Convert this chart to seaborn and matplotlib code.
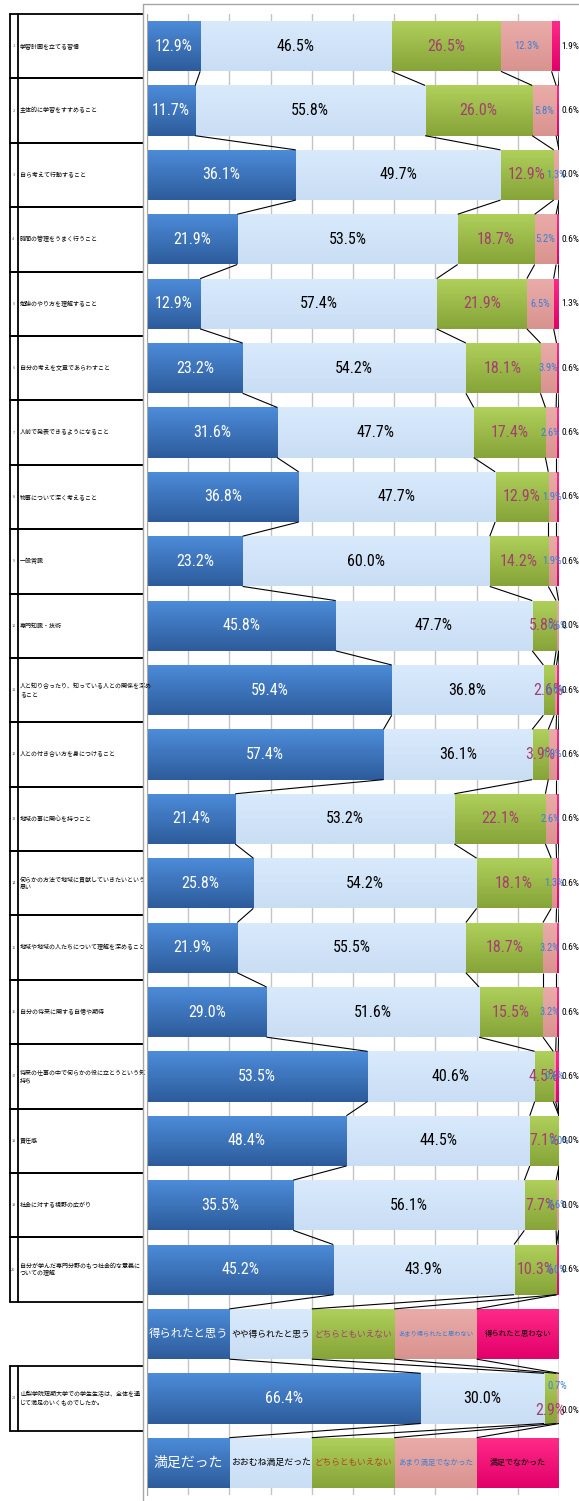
import numpy as np
import pandas as pd
import matplotlib
matplotlib.use("Agg")
import matplotlib.pyplot as plt
import seaborn as sns
from matplotlib import font_manager, transforms
from matplotlib.font_manager import FontProperties
from matplotlib.colors import to_rgb
from matplotlib.lines import Line2D

# ---------------- data ----------------
items = [
    "学習計画を立てる習慣",
    "主体的に学習をすすめること",
    "自ら考えて行動すること",
    "時間の管理をうまく行うこと",
    "勉強のやり方を理解すること",
    "自分の考えを文章であらわすこと",
    "人前で発表できるようになること",
    "物事について深く考えること",
    "一般常識",
    "専門知識・技術",
    "人と知り合ったり、知っている人との関係を深め\nること",
    "人との付き合い方を身につけること",
    "地域の事に関心を持つこと",
    "何らかの方法で地域に貢献していきたいという\n思い",
    "地域や地域の人たちについて理解を深めること",
    "自分の将来に関する自信や期待",
    "将来の仕事の中で何らかの役に立とうという気\n持ち",
    "責任感",
    "社会に対する視野の広がり",
    "自分が学んだ専門分野のもつ社会的な意義に\nついての理解",
    "山梨学院短期大学での学生生活は、全体を通\nじて満足のいくものでしたか。",
]
item_numbers = [str(i) for i in range(1, 22)]

legend1_names = ["得られたと思う", "やや得られたと思う", "どちらともいえない",
                 "あまり得られたと思わない", "得られたと思わない"]
legend2_names = ["満足だった", "おおむね満足だった", "どちらともいえない",
                 "あまり満足でなかった", "満足でなかった"]
legend_share = [20, 20, 20, 20, 20]

cat1 = [12.9, 11.7, 36.1, 21.9, 12.9, 23.2, 31.6, 36.8, 23.2, 45.8,
        59.4, 57.4, 21.4, 25.8, 21.9, 29.0, 53.5, 48.4, 35.5, 45.2, 66.4]
cat2 = [46.5, 55.8, 49.7, 53.5, 57.4, 54.2, 47.7, 47.7, 60.0, 47.7,
        36.8, 36.1, 53.2, 54.2, 55.5, 51.6, 40.6, 44.5, 56.1, 43.9, 30.0]
cat3 = [26.5, 26.0, 12.9, 18.7, 21.9, 18.1, 17.4, 12.9, 14.2, 5.8,
        2.6, 3.9, 22.1, 18.1, 18.7, 15.5, 4.5, 7.1, 7.7, 10.3, 2.9]
cat4 = [12.3, 5.8, 1.3, 5.2, 6.5, 3.9, 2.6, 1.9, 1.9, 0.6,
        0.6, 1.9, 2.6, 1.3, 3.2, 3.2, 0.6, 0.0, 0.6, 0.0, 0.7]
cat5 = [1.9, 0.6, 0.0, 0.6, 1.3, 0.6, 0.6, 0.6, 0.6, 0.0,
        0.6, 0.6, 0.6, 0.6, 0.6, 0.6, 0.6, 0.0, 0.0, 0.6, 0.0]

# ---------------- fonts ----------------
sns.set_style("white")
plt.rcParams["font.family"] = ["Noto Sans CJK JP", "DejaVu Sans"]


def pick_number_font():
    ttf = font_manager.fontManager.ttflist
    prefs = ["Liberation Sans Narrow", "Roboto Condensed", "Open Sans Condensed",
             "Noto Sans Condensed", "DejaVu Sans Condensed"]
    for name in prefs:
        for f in ttf:
            if f.name == name and f.style == "normal" and f.weight in (400, "normal", "regular"):
                return FontProperties(fname=f.fname), 1.0
    for f in ttf:
        if f.name in ("Noto Sans", "Roboto", "Open Sans", "DejaVu Sans", "Inter") and \
                f.stretch in ("condensed", "semi-condensed", "extra-condensed") and \
                f.style == "normal" and f.weight in (400, "normal", "regular"):
            return FontProperties(fname=f.fname), 1.0
    return FontProperties(family="Liberation Sans"), 0.9


NUMPROP, NSCALE = pick_number_font()

# ---------------- build rows ----------------
data_vals = np.array([cat1, cat2, cat3, cat4, cat5]).T  # (21,5)
rows_vals = list(data_vals[:20]) + [np.array(legend_share, float)] + \
            [data_vals[20]] + [np.array(legend_share, float)]
vals = np.array(rows_vals)  # (23,5)
cum = np.cumsum(vals, axis=1)
n_rows = vals.shape[0]
row_ids = [f"r{i}" for i in range(n_rows)]
row_kind = ["data"] * 20 + ["leg1", "data", "leg2"]

colors = ["#3a74c0", "#d3e5fa", "#9dbd45", "#e6a3a0", "#ff0a74"]
grad_top = ["#4d8cda", "#d9eafc", "#b0d05c", "#eaaca9", "#ff2a88"]
grad_bot = ["#2d5c9b", "#c9ddf4", "#86a438", "#d9938f", "#e2006a"]
label_colors = ["white", "black", "#a3406e", "#3b7fd6", "black"]

W, H = 579, 1501
fig = plt.figure(figsize=(W / 100, H / 100), dpi=100)
ax = fig.add_axes([147 / W, 6 / H, 412 / W, 1481 / H])

df = pd.DataFrame({"row": row_ids})
BAR_H = 0.78


def grad_fill(patch, top, bot, z):
    x, y = patch.get_x(), patch.get_y()
    w, h = patch.get_width(), patch.get_height()
    if w <= 0:
        return
    t = np.linspace(0, 1, 40)[:, None]
    cols = (1 - t) * np.array(to_rgb(top)) + t * np.array(to_rgb(bot))
    im = ax.imshow(cols[:, None, :], extent=(x, x + w, y + h, y), aspect="auto",
                   zorder=z, interpolation="bilinear")
    im.set_clip_path(patch)


for j, k in enumerate(range(4, -1, -1)):
    df["cum"] = cum[:, k]
    before = len(ax.patches)
    sns.barplot(data=df, x="cum", y="row", order=row_ids, orient="h",
                color=colors[k], saturation=1, width=BAR_H, errorbar=None,
                linewidth=0, ax=ax)
    z = 2 + j * 0.1
    for p in ax.patches[before:]:
        p.set_zorder(z)
        grad_fill(p, grad_top[k], grad_bot[k], z + 0.05)

# series lines between consecutive bars
for i in range(n_rows - 1):
    for b in range(5):
        ax.plot([cum[i, b], cum[i + 1, b]],
                [i + BAR_H / 2, i + 1 - BAR_H / 2],
                color="black", lw=0.8, zorder=3, solid_capstyle="butt")

# data labels
big, mid, small = 11.5 * NSCALE, 7.6 * NSCALE, 6.8 * NSCALE
special_dy = {(21, 2): 0.19, (21, 3): -0.19, (21, 4): 0.19}
leg1_sizes = [8.2, 6.3, 6.2, 4.5, 5.3]
leg2_sizes = [10.0, 6.4, 6.2, 5.4, 5.8]
leg1_colors = ["white", "black", "#a3406e", "#3b7fd6", "black"]
leg2_colors = ["white", "black", "#b0461a", "#3b7fd6", "black"]
for i in range(n_rows):
    for k in range(5):
        v = vals[i, k]
        xc = cum[i, k] - v / 2
        if row_kind[i] == "leg1":
            ax.text(xc, i, legend1_names[k], ha="center", va="center",
                    color=leg1_colors[k], fontsize=leg1_sizes[k], zorder=10)
            continue
        if row_kind[i] == "leg2":
            ax.text(xc, i, legend2_names[k], ha="center", va="center",
                    color=leg2_colors[k], fontsize=leg2_sizes[k], zorder=10)
            continue
        if k == 4:
            xc = 102.8
        size = big if k < 3 else (mid if k == 3 else small)
        dy = special_dy.get((i, k), 0.0)
        fp = NUMPROP.copy()
        fp.set_size(size)
        ax.text(xc, i + dy, f"{v:.1f}%", ha="center", va="center",
                color=label_colors[k], fontproperties=fp,
                zorder=10, clip_on=False)

# axes styling
ax.set_xlim(0, 100)
ax.set_ylim(n_rows - 0.5, -0.5)
ax.set_xticks(np.arange(0, 101, 10))
ax.grid(axis="x", color="#c4c4c4", lw=1.0)
ax.grid(axis="y", visible=False)
ax.set_axisbelow(True)
ax.tick_params(left=False, bottom=False, labelleft=False, labelbottom=False)
ax.set_xlabel("")
ax.set_ylabel("")
for s in ["top", "right", "bottom"]:
    ax.spines[s].set_visible(False)
ax.spines["left"].set_color("#a6a6a6")
ax.spines["left"].set_linewidth(0.8)

# chart outer border (top and left)
fig.add_artist(Line2D([143 / W, 1.0], [1 - 4 / H, 1 - 4 / H], color="#a6a6a6", lw=1.0))
fig.add_artist(Line2D([143 / W, 143 / W], [0, 1 - 4 / H], color="#a6a6a6", lw=1.0))

# left table
tr = transforms.blended_transform_factory(fig.transFigure, ax.transData)
xl, xm, xr = 9.5 / W, 17.5 / W, 143 / W
table_rows = list(range(20)) + [21]
for r in table_rows:
    for yb in (r - 0.5, r + 0.5):
        ax.add_line(Line2D([xl, xr], [yb, yb], transform=tr, color="black",
                           lw=1.3, clip_on=False, zorder=5))
for x in (xl, xm):
    ax.add_line(Line2D([x, x], [-0.5, 19.5], transform=tr, color="black",
                       lw=1.3, clip_on=False, zorder=5))
    ax.add_line(Line2D([x, x], [20.5, 21.5], transform=tr, color="black",
                       lw=1.3, clip_on=False, zorder=5))
for idx, r in enumerate(table_rows):
    ax.text(13.5 / W, r, item_numbers[idx], transform=tr, ha="center",
            va="center", fontsize=2.8, color="#555555", clip_on=False)
    ax.text(20 / W, r, items[idx], transform=tr, ha="left", va="center",
            fontsize=4.3, color="black", linespacing=1.35, clip_on=False)

fig.savefig("out.png", dpi=100)
